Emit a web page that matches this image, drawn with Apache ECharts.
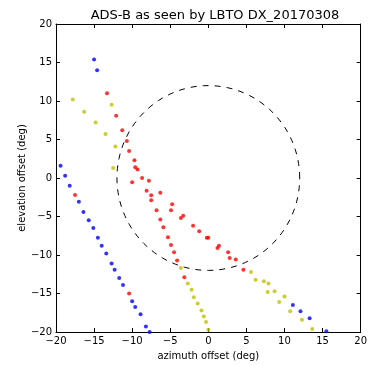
<!DOCTYPE html>
<html>
<head>
<meta charset="utf-8">
<script src="https://cdn.jsdelivr.net/npm/echarts@6/dist/echarts.min.js"></script>
<style>
  html, body { margin: 0; padding: 0; background: #fff; }
  #chart { width: 370px; height: 366px; }
</style>
</head>
<body>
<div id="chart"></div>
<script>
// scatter data (deg)
const blueX = [-15.0, -14.6, -19.4, -18.8, -18.2, -17.0, -16.4, -15.7, -15.1, -14.5, -14.0, -13.4, -12.7, -12.3, -11.7, -11.2, -10.0, -9.6, -8.9, -8.2, -7.7, 11.1, 12.1, 13.3, 15.5];
const blueY = [15.4, 14.0, 1.6, 0.3, -1.0, -3.1, -4.4, -5.5, -6.5, -7.75, -8.8, -9.8, -11.1, -11.9, -13.0, -13.9, -16.0, -16.75, -17.7, -19.3, -20.0, -16.5, -17.3, -18.2, -19.9];

const redX = [-13.3, -12.1, -11.3, -10.7, -10.4, -9.7, -9.6, -9.3, -10.0, -8.7, -7.8, -8.1, -7.5, -7.5, -6.3, -4.75, -4.9, -6.8, -6.3, -5.9, -5.3, -4.9, -4.5, -4.1, -3.15, -3.6, -3.3, -2.0, -1.2, -0.2, 0.0, 1.2, 1.4, 2.6, 2.8, 3.6, 4.6, -17.5, -10.4];
const redY = [11.0, 8.1, 6.2, 4.8, 3.5, 2.3, 1.4, 1.1, -0.55, 0.0, -0.35, -1.65, -2.25, -2.9, -1.9, -3.4, -4.2, -4.2, -5.4, -6.4, -7.7, -8.7, -9.65, -10.7, -12.9, -5.2, -4.9, -6.2, -6.9, -7.75, -7.75, -9.1, -8.8, -9.65, -10.4, -10.6, -11.9, -2.2, -15.0];

const yellowX = [-17.8, -16.3, -12.7, -14.8, -13.5, -12.2, -12.5, -3.6, -2.7, -2.2, -1.9, -1.4, -0.9, -0.6, -0.3, 0.0, 5.6, 6.2, 7.3, 7.9, 7.8, 8.7, 10.0, 9.3, 10.75, 12.3, 13.65];
const yellowY = [10.2, 8.6, 9.5, 7.2, 5.7, 4.1, 1.3, -11.7, -13.7, -14.5, -15.5, -16.3, -17.2, -18.0, -18.7, -19.7, -12.2, -13.2, -13.4, -13.7, -14.8, -14.7, -15.4, -16.1, -17.3, -18.4, -19.6];

// field of view circle
const fovRadius = 12;
const circleSteps = 120;

const axisMin = -20;
const axisMax = 20;
const axisStep = 5;

function zip(xs, ys) {
  return xs.map((x, i) => [x, ys[i]]);
}

const circle = [];
for (let i = 0; i <= circleSteps; i++) {
  const a = (i / circleSteps) * 2 * Math.PI;
  circle.push([fovRadius * Math.cos(a), fovRadius * Math.sin(a)]);
}

const minus = (v) => String(v).replace('-', '\u2212');
const font = 'DejaVu Sans';

const baseAxis = {
  type: 'value',
  min: axisMin,
  max: axisMax,
  interval: axisStep,
  axisLine: { show: true, onZero: false, lineStyle: { color: '#000', width: 1 } },
  axisTick: { show: true, inside: true, length: 4, lineStyle: { color: '#000' } },
  splitLine: { show: false },
};

const chart = echarts.init(document.getElementById('chart'));

const option = {
  animation: false,
  backgroundColor: '#fff',
  title: {
    text: 'ADS-B as seen by LBTO DX_20170308',
    left: 210,
    textAlign: 'center',
    top: 4,
    textStyle: { fontFamily: font, fontSize: 13, fontWeight: 'normal', color: '#000' },
  },
  grid: { left: 56, right: 7, top: 24, bottom: 34 },
  xAxis: [
    Object.assign({}, baseAxis, {
      position: 'bottom',
      name: 'azimuth offset (deg)',
      nameLocation: 'middle',
      nameGap: 19,
      nameMoveOverlap: false,
      nameTextStyle: { fontFamily: font, fontSize: 10, color: '#000', verticalAlign: 'top' },
      axisLabel: { formatter: minus, margin: 4, fontFamily: font, fontSize: 10, color: '#000' },
    }),
    Object.assign({}, baseAxis, {
      position: 'top',
      axisLabel: { show: false },
    }),
  ],
  yAxis: [
    Object.assign({}, baseAxis, {
      position: 'left',
      name: 'elevation offset (deg)',
      nameLocation: 'middle',
      nameGap: 34,
      nameMoveOverlap: false,
      nameTextStyle: { fontFamily: font, fontSize: 10, color: '#000', verticalAlign: 'middle' },
      axisLabel: { formatter: minus, margin: 4, fontFamily: font, fontSize: 10, color: '#000' },
    }),
    Object.assign({}, baseAxis, {
      position: 'right',
      axisLabel: { show: false },
    }),
  ],
  series: [
    {
      name: 'fov',
      type: 'line',
      data: circle,
      showSymbol: false,
      silent: true,
      lineStyle: { color: '#000', width: 1, type: [6, 6] },
      z: 1,
    },
    {
      name: 'blue',
      type: 'scatter',
      data: zip(blueX, blueY),
      symbolSize: 4,
      itemStyle: { color: '#0000ff' },
      z: 2,
    },
    {
      name: 'red',
      type: 'scatter',
      data: zip(redX, redY),
      symbolSize: 4,
      itemStyle: { color: '#ff0000' },
      z: 2,
    },
    {
      name: 'yellow',
      type: 'scatter',
      data: zip(yellowX, yellowY),
      symbolSize: 4,
      itemStyle: { color: '#bfbf00' },
      z: 2,
    },
  ],
};

chart.setOption(option);
</script>
</body>
</html>
